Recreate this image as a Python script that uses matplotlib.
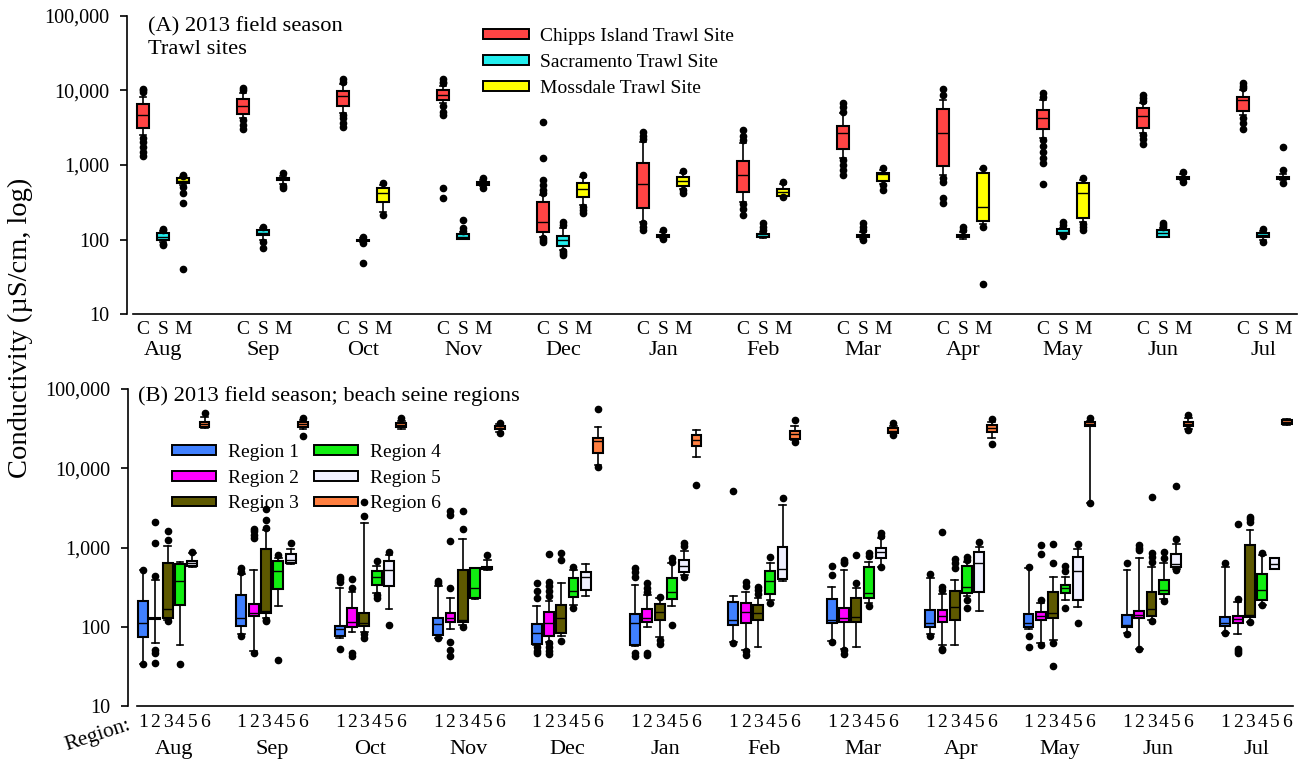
import matplotlib

matplotlib.use("Agg")

import matplotlib.pyplot as plt
from matplotlib.patches import Patch
from matplotlib.ticker import FixedLocator, FuncFormatter, NullLocator
from matplotlib.transforms import blended_transform_factory

plt.rcParams["font.family"] = ["Liberation Serif", "DejaVu Serif"]

W, H = 1307, 771

MONTHS = ["Aug", "Sep", "Oct", "Nov", "Dec", "Jan", "Feb", "Mar", "Apr", "May", "Jun", "Jul"]
YTICKS = [10, 100, 1000, 10000, 100000]

# --- (A) trawl sites: per month (10th, 25th, median, 75th, 90th percentile), then points outside ---
SITE_NAMES = ["Chipps Island Trawl Site", "Sacramento Trawl Site", "Mossdale Trawl Site"]
SITE_TICKS = ["C", "S", "M"]
SITE_COLORS = ["#ff4444", "#22eeee", "#ffff00"]

CHIPPS = [
    (2500, 3150, 4700, 6550, 8200), (4200, 4800, 6100, 7700, 9100), (4900, 6200, 8400, 9900, 12200),
    (6700, 7400, 8700, 10100, 11500), (110, 125, 170, 315, 400), (175, 265, 560, 1080, 2050),
    (320, 440, 735, 1130, 1950), (1230, 1620, 2650, 3330, 4900), (735, 980, 2650, 5550, 7450),
    (2280, 3000, 4300, 5450, 7450), (2650, 3100, 4500, 5750, 6700), (4650, 5300, 7400, 8200, 10000),
]
CHIPPS_OUT = [
    [9500, 10000, 10400, 2300, 2050, 1750, 1500, 1300], [10000, 10600, 3950, 3450, 3000],
    [13000, 14100, 4650, 4200, 3700, 3250], [12400, 13000, 14100, 6100, 5200, 4650, 490, 360],
    [420, 460, 540, 630, 1250, 3800, 105, 100, 94], [2200, 2450, 2790, 165, 150, 136],
    [2150, 2450, 2950, 300, 260, 214], [5200, 5900, 6850, 1160, 1000, 870, 735],
    [8700, 10300, 660, 600, 360, 305], [8200, 9100, 2150, 1800, 1500, 1250, 1050, 550],
    [7100, 7900, 8700, 2500, 2200, 1900], [10700, 11500, 12400, 4250, 3700, 3050],
]
SACRAMENTO = [
    (93, 99, 110, 124, 130), (100, 115, 124, 135, 142), (93, 95, 98, 100, 105),
    (101, 103, 110, 118, 125), (73, 83, 98, 113, 142), (105, 108, 112, 115, 125),
    (105, 108, 112, 118, 128), (102, 107, 111, 115, 125), (102, 107, 112, 117, 128),
    (115, 118, 128, 138, 145), (107, 110, 121, 135, 142), (100, 107, 114, 121, 130),
]
SACRAMENTO_OUT = [
    [135, 140, 88, 85], [149, 94, 77], [110, 89, 48], [130, 142, 183], [157, 174, 70, 66, 63],
    [135, 102], [135, 150, 168], [135, 150, 168, 99], [135, 149], [157, 174, 112],
    [149, 158, 168], [138, 94],
]
MOSSDALE = [
    (540, 569, 616, 664, 700), (560, 620, 650, 680, 720), (237, 322, 426, 487, 540),
    (530, 545, 569, 590, 620), (291, 376, 472, 580, 697), (480, 528, 611, 697, 780),
    (380, 388, 430, 478, 560), (560, 611, 750, 789, 860), (162, 178, 271, 775, 875),
    (174, 193, 426, 569, 630), (620, 640, 664, 690, 760), (620, 640, 664, 690, 760),
]
MOSSDALE_OUT = [
    [720, 740, 512, 418, 313, 41], [775, 520, 487], [568, 214], [664, 487], [735, 276, 250, 225],
    [838, 462, 422], [598, 376], [903, 540, 462], [903, 150, 25.5], [664, 162, 148, 135],
    [815, 598], [1760, 857, 569],
]

# --- (B) beach seine regions ---
REGION_NAMES = ["Region 1", "Region 2", "Region 3", "Region 4", "Region 5", "Region 6"]
REGION_TICKS = ["1", "2", "3", "4", "5", "6"]
REGION_COLORS = ["#4080ff", "#ff00ff", "#5e5900", "#11ee11", "#f0f0ff", "#ff7f40"]

REGION1 = [
    (34, 74, 113, 211, 520), (82, 102, 130, 249, 463), (72, 76, 95, 102, 305), (72, 78, 108, 128, 327),
    (59, 60, 84, 108, 185), (57, 59, 113, 146, 336), (65, 105, 123, 207, 244), (67, 110, 121, 221, 319),
    (82, 100, 110, 162, 416), (93, 100, 113, 146, 548), (84, 100, 105, 141, 520), (84, 102, 110, 134, 575),
]
REGION1_OUT = [
    [520, 34], [494, 546, 76], [371, 400, 428, 53], [353, 381, 72], [229, 280, 353, 56, 50, 46],
    [428, 490, 548, 47, 43], [63, 5210], [447, 584, 65], [466, 76], [575, 77, 55], [631, 82], [643, 84],
]
REGION2 = [
    (62, 125, 128, 130, 389), (50, 138, 151, 192, 520), (87, 100, 116, 174, 277), (93, 116, 130, 151, 228),
    (65, 77, 110, 155, 211), (98, 116, 128, 168, 251), (51, 113, 153, 202, 277), (53, 116, 128, 174, 520),
    (59, 116, 138, 162, 256), (62, 121, 138, 155, 197), (52, 128, 141, 160, 731), (82, 112, 127, 138, 207),
]
REGION2_OUT = [
    [437, 1130, 2080, 51, 46, 35], [1310, 1450, 1600, 1730, 47], [305, 396, 47, 43],
    [311, 1210, 2550, 2890, 65, 51, 43], [244, 280, 330, 371, 828, 63, 55, 50, 45],
    [277, 310, 353, 47, 44], [327, 365, 49, 44], [631, 660, 695, 51, 45], [292, 319, 1580, 53, 51],
    [216, 820, 1070, 59], [930, 1000, 1080, 52], [222, 1960, 53, 49, 46],
]
REGION3 = [
    (121, 128, 166, 631, 1040), (128, 148, 160, 962, 1660), (87, 103, 112, 148, 2020),
    (105, 116, 123, 520, 1280), (76, 84, 129, 188, 353), (74, 120, 153, 193, 228),
    (56, 122, 148, 188, 228), (56, 116, 134, 231, 305), (59, 120, 176, 281, 389),
    (69, 128, 151, 277, 428), (123, 137, 168, 277, 575), (116, 132, 141, 1070, 1660),
]
REGION3_OUT = [
    [1240, 1630, 117], [1760, 2220, 3030, 122, 117], [2510, 3790, 80, 73], [1700, 2910, 100],
    [695, 860, 67], [239, 69, 61], [257, 290, 319], [353, 804], [557, 630, 709],
    [643, 1110, 62, 32], [663, 760, 860, 4380, 118], [2120, 2300, 2430, 114],
]
REGION4 = [
    (59, 188, 381, 613, 663), (183, 299, 501, 671, 731), (269, 336, 428, 501, 584),
    (222, 233, 305, 548, 557), (188, 239, 285, 416, 520), (181, 222, 272, 407, 643),
    (216, 256, 381, 505, 643), (197, 228, 269, 575, 663), (244, 269, 315, 584, 663),
    (216, 263, 305, 336, 420), (222, 257, 292, 392, 631), (188, 216, 292, 459, 794),
]
REGION4_OUT = [
    [34], [804, 38], [676, 251, 231], [], [575, 174], [660, 731, 105], [765, 200],
    [770, 860, 183], [695, 752, 216, 170], [505, 584, 170], [731, 890, 213], [860, 188],
]
REGION5 = [
    (575, 584, 631, 681, 860), (613, 630, 690, 820, 962), (166, 323, 520, 681, 804),
    (520, 535, 545, 560, 700), (244, 292, 428, 496, 620), (447, 496, 584, 695, 910),
    (381, 398, 535, 1020, 3440), (575, 731, 871, 995, 1310), (160, 277, 631, 871, 1020),
    (176, 216, 505, 752, 962), (532, 575, 620, 828, 1110), (530, 535, 613, 731, 740),
]
REGION5_OUT = [
    [890], [1130], [886, 105], [804], [], [1030, 1130, 428], [4250], [1410, 1540, 560],
    [1180], [1110, 113], [1270, 520, 5970], [],
]
REGION6 = [
    (32000, 33400, 36200, 38700, 44700), (31000, 33400, 36200, 38700, 41000),
    (31500, 32800, 35400, 36900, 40000), (29000, 31000, 32500, 34000, 36000),
    (11000, 15700, 22300, 23900, 33400), (13700, 19100, 22700, 26300, 30400),
    (22700, 23400, 26800, 29500, 34100), (27600, 27600, 29800, 31900, 34000),
    (24300, 28400, 31900, 35100, 38700), (3670, 34100, 35800, 37900, 40000),
    (31000, 34100, 36200, 38700, 42700), (35000, 35800, 37900, 40600, 41500),
]
REGION6_OUT = [
    [50200], [42700, 25700], [42700], [37600, 27600], [55500, 10500], [6150], [40600, 21600],
    [37600, 26300], [41400, 20200], [42700, 3670], [46900, 30400], [],
]

SITES = [(CHIPPS, CHIPPS_OUT), (SACRAMENTO, SACRAMENTO_OUT), (MOSSDALE, MOSSDALE_OUT)]
REGIONS = [(REGION1, REGION1_OUT), (REGION2, REGION2_OUT), (REGION3, REGION3_OUT),
           (REGION4, REGION4_OUT), (REGION5, REGION5_OUT), (REGION6, REGION6_OUT)]


def draw_series(ax, summary, outliers, positions, color, width, cap):
    stats = [
        dict(whislo=s[0], q1=s[1], med=s[2], q3=s[3], whishi=s[4], fliers=o)
        for s, o in zip(summary, outliers)
    ]
    ax.bxp(
        stats, positions=positions, widths=width, capwidths=cap, patch_artist=True,
        manage_ticks=False,
        boxprops=dict(facecolor=color, edgecolor="black", linewidth=1.5),
        medianprops=dict(color="black", linewidth=1.0),
        whiskerprops=dict(color="black", linewidth=1.2),
        capprops=dict(color="black", linewidth=1.2),
        flierprops=dict(marker="o", markersize=4.5, markerfacecolor="black",
                        markeredgecolor="black"),
    )


def style_axis(ax, xlim, xstart, ticks, ticklabels, group_centers, month_y, xpad):
    ax.set_yscale("log")
    ax.set_ylim(10, 100000)
    ax.set_xlim(*xlim)
    ax.yaxis.set_major_locator(FixedLocator(YTICKS))
    ax.yaxis.set_minor_locator(NullLocator())
    ax.yaxis.set_major_formatter(FuncFormatter(lambda v, _: f"{v:,.0f}"))
    ax.spines[["top", "right"]].set_visible(False)
    ax.spines["left"].set_linewidth(1.2)
    ax.spines["bottom"].set_linewidth(1.2)
    ax.spines["bottom"].set_bounds(xstart, xlim[1])
    ax.tick_params(axis="y", direction="out", length=5, width=1.2, labelsize=14.5, pad=8)
    ax.set_xticks(ticks)
    ax.set_xticklabels(ticklabels)
    ax.tick_params(axis="x", length=0, labelsize=14, pad=xpad)
    trans = blended_transform_factory(ax.transData, ax.transAxes)
    for c, m in zip(group_centers, MONTHS):
        ax.text(c, month_y, m, transform=trans, ha="center", va="center", fontsize=16)


fig = plt.figure(figsize=(W / 100, H / 100), dpi=100)

# (A) trawl sites: 5 slots per month, sites in the first three
ax_a = fig.add_axes([127 / W, 1 - 314.3 / H, (1297 - 127) / W, (314.3 - 15.7) / H])
for k, ((summary, outliers), color) in enumerate(zip(SITES, SITE_COLORS)):
    pos = [5 * i + k for i in range(len(MONTHS))]
    draw_series(ax_a, summary, outliers, pos, color, 0.62, 0.3)
ticks_a = [5 * i + k for i in range(len(MONTHS)) for k in range(3)]
style_axis(ax_a, (-0.8, 57.7), -0.5, ticks_a, SITE_TICKS * len(MONTHS),
           [5 * i + 1 for i in range(len(MONTHS))], -0.12, 4.5)
ax_a.text(0.018, 0.995, "(A) 2013 field season\nTrawl sites", transform=ax_a.transAxes,
          ha="left", va="top", fontsize=16.2, linespacing=1.25)
fig.legend(
    handles=[Patch(facecolor=c, edgecolor="black", linewidth=1.4, label=n)
             for n, c in zip(SITE_NAMES, SITE_COLORS)],
    loc="upper left", bbox_to_anchor=(483 / W, 1 - 28 / H), frameon=False, fontsize=14,
    borderpad=0, borderaxespad=0, handlelength=2.37, handleheight=0.4,
    handletextpad=0.57, labelspacing=0.46,
)

# (B) beach seine regions: 8 slots per month, regions in the first six
ax_b = fig.add_axes([128 / W, 1 - 706 / H, (1293 - 128) / W, (706 - 389) / H])
for k, ((summary, outliers), color) in enumerate(zip(REGIONS, REGION_COLORS)):
    pos = [8 * i + k for i in range(len(MONTHS))]
    draw_series(ax_b, summary, outliers, pos, color, 0.8, 0.55)
ticks_b = [8 * i + k for i in range(len(MONTHS)) for k in range(6)]
style_axis(ax_b, (-1.22, 93.5), -0.5, ticks_b, REGION_TICKS * len(MONTHS),
           [8 * i + 2.5 for i in range(len(MONTHS))], -0.138, 6)
ax_b.text(0.009, 1.008, "(B) 2013 field season; beach seine regions", transform=ax_b.transAxes,
          ha="left", va="top", fontsize=16.2)
fig.legend(
    handles=[Patch(facecolor=c, edgecolor="black", linewidth=1.4, label=n)
             for n, c in zip(REGION_NAMES, REGION_COLORS)],
    loc="upper left", bbox_to_anchor=(172 / W, 1 - 444 / H), frameon=False, fontsize=14,
    ncol=2, borderpad=0, borderaxespad=0, handlelength=2.26, handleheight=0.38,
    handletextpad=0.6, labelspacing=0.45, columnspacing=0.8,
)

fig.text(20 / W, 1 - 328 / H, "Conductivity (µS/cm, log)", rotation=90,
         ha="center", va="center", fontsize=20.5)
fig.text(98 / W, 1 - 735 / H, "Region:", rotation=18, ha="center", va="center", fontsize=15.5)

fig.savefig("out.png", dpi=100)
